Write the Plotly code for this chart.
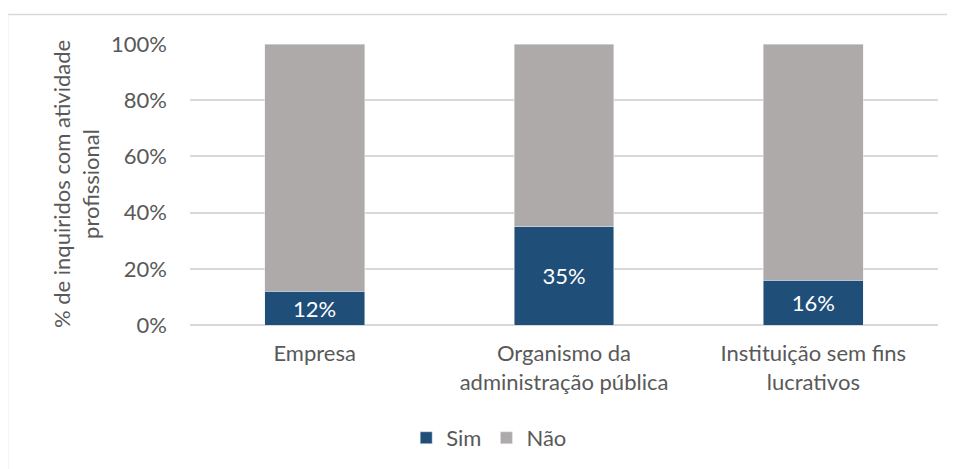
import plotly.graph_objects as go

categories = ["Empresa", "Organismo da<br>administração pública", "Instituição sem fins<br>lucrativos"]
sim = [12, 35, 16]
nao = [88, 65, 84]
tick_vals = [0, 20, 40, 60, 80, 100]
tick_text = ["0%", "20%", "40%", "60%", "80%", "100%"]

FONT = "Lato"
TXT = "#595959"
FS = 22

fig = go.Figure()
fig.add_trace(go.Bar(
    x=categories, y=sim, name="Sim", marker_color="#1F4E79",
    text=[f"{v}%" for v in sim], textposition="inside", insidetextanchor="middle",
    textangle=0, textfont=dict(color="white", size=FS, family=FONT),
))
fig.add_trace(go.Bar(
    x=categories, y=nao, name="Não", marker_color="#AEAAAA",
))

fig.update_layout(
    barmode="stack",
    bargap=0.6,
    width=947, height=461,
    margin=dict(l=182, r=17, t=36, b=143),
    paper_bgcolor="white", plot_bgcolor="white",
    font=dict(family=FONT, size=FS, color=TXT),
    showlegend=True,
    legend=dict(orientation="h", x=0.40, xanchor="center", y=-0.397, yanchor="middle",
                font=dict(size=FS, color=TXT), itemwidth=30, traceorder="normal"),
    xaxis=dict(showgrid=False, showline=False, ticks="", ticklabelstandoff=13,
               tickfont=dict(size=FS, color=TXT)),
    yaxis=dict(range=[0, 100], tickvals=tick_vals, ticktext=tick_text,
               showgrid=True, gridcolor="#D9D9D9", gridwidth=1.5,
               zeroline=True, zerolinecolor="#D9D9D9", zerolinewidth=1.5,
               showline=False, ticks="", ticklabelstandoff=22,
               tickfont=dict(size=FS, color=TXT)),
    annotations=[dict(
        text="% de inquiridos com atividade<br>profissional", textangle=-90,
        xref="paper", yref="paper", x=-0.153, y=0.5, xanchor="center", yanchor="middle",
        showarrow=False, font=dict(size=FS, color=TXT, family=FONT),
    )],
    shapes=[dict(type="rect", xref="paper", yref="paper",
                 x0=-0.244, x1=1.05, y0=-0.6, y1=1.1046,
                 line=dict(color="#D9D9D9", width=1.5), fillcolor="rgba(0,0,0,0)", layer="below")],
)

fig.write_html("out.html")
